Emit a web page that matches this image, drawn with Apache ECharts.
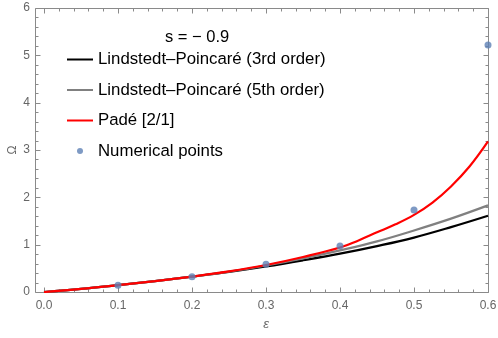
<!DOCTYPE html>
<html>
<head>
<meta charset="utf-8">
<script src="https://cdn.jsdelivr.net/npm/echarts@6/dist/echarts.min.js"></script>
<style>
  html, body { margin: 0; padding: 0; background: #fff; }
  #chart { width: 498px; height: 338px; }
</style>
</head>
<body>
<div id="chart"></div>
<script>
// curve sample points
var eps = [0, 0.05, 0.1, 0.15, 0.2, 0.25, 0.3, 0.35, 0.4, 0.45, 0.5, 0.55, 0.6];
var lp3 = [0, 0.065, 0.145, 0.23, 0.325, 0.425, 0.54, 0.67, 0.81, 0.97, 1.15, 1.37, 1.61];
var lp5 = [0, 0.065, 0.145, 0.23, 0.325, 0.43, 0.56, 0.71, 0.88, 1.07, 1.30, 1.55, 1.83];

var padeEps = [0, 0.05, 0.1, 0.15, 0.2, 0.25, 0.3, 0.35, 0.4, 0.425, 0.45, 0.475, 0.5, 0.525, 0.55, 0.575, 0.6];
var pade = [0, 0.065, 0.145, 0.23, 0.325, 0.435, 0.57, 0.74, 0.94, 1.09, 1.26, 1.43, 1.63, 1.89, 2.23, 2.65, 3.18];

var numEps = [0.1, 0.2, 0.3, 0.4, 0.5, 0.6];
var numVals = [0.14, 0.32, 0.585, 0.97, 1.73, 5.22];

var xTicks = [0, 0.1, 0.2, 0.3, 0.4, 0.5, 0.6];
var yTicks = [0, 1, 2, 3, 4, 5, 6];

var names = ['Lindstedt\u2013Poincaré (3rd order)', 'Lindstedt\u2013Poincaré (5th order)', 'Padé [2/1]', 'Numerical points'];

document.addEventListener('DOMContentLoaded', function () {
  var chart = echarts.init(document.getElementById('chart'));

  function pairs(xs, ys) {
    return xs.map(function (x, i) { return [x, ys[i]]; });
  }

  // minor ticks between the majors (5 steps per major)
  function minors(ticks) {
    var out = [];
    for (var i = 0; i < ticks.length - 1; i++) {
      var step = (ticks[i + 1] - ticks[i]) / 5;
      for (var k = 1; k < 5; k++) out.push(ticks[i] + k * step);
    }
    return out;
  }

  var frame = '#8a8a8a';
  var labelColor = '#666';
  var fontFamily = 'Liberation Sans, Arial, sans-serif';
  var lineIcon = 'path://M0,0 L13,0 L13,1 L0,1 Z';
  var xFrameMin = -0.012;   // frame starts a little left of 0

  var option = {
    animation: false,
    title: {
      text: 's = \u2212 0.9',
      left: 160, top: 24,
      textStyle: { color: '#000', fontSize: 16.5, fontWeight: 'normal', fontFamily: fontFamily }
    },
    legend: {
      orient: 'vertical',
      left: 67, top: 51, padding: 0,
      itemWidth: 26, itemHeight: 6, itemGap: 13.5,
      selectedMode: false,
      textStyle: { color: '#000', fontSize: 16.8, fontFamily: fontFamily },
      data: [
        { name: names[0], icon: lineIcon },
        { name: names[1], icon: lineIcon },
        { name: names[2], icon: lineIcon },
        { name: names[3], icon: 'circle' }
      ]
    },
    grid: { left: 44, right: 10, top: 8, bottom: 46, containLabel: false, outerBoundsMode: 'none' },
    xAxis: {
      type: 'value', min: 0, max: 0.6, interval: 0.1,
      axisLine: { show: false }, axisTick: { show: false }, splitLine: { show: false },
      axisLabel: { color: labelColor, fontSize: 12, fontFamily: fontFamily, margin: 8,
        formatter: function (v) { return v.toFixed(1); } },
      name: 'ε', nameLocation: 'middle', nameGap: 26, nameMoveOverlap: false,
      nameTextStyle: { color: labelColor, fontSize: 13, fontStyle: 'italic', fontFamily: fontFamily }
    },
    yAxis: {
      type: 'value', offset: 9, min: 0, max: 6, interval: 1,
      axisLine: { show: false }, axisTick: { show: false }, splitLine: { show: false },
      axisLabel: { color: labelColor, fontSize: 12, fontFamily: fontFamily, margin: 5 },
      name: 'Ω', nameLocation: 'middle', nameGap: 16, nameMoveOverlap: false,
      nameTextStyle: { color: labelColor, fontSize: 12, fontFamily: fontFamily }
    },
    series: [
      {
        name: names[0], type: 'line', data: pairs(eps, lp3),
        smooth: 0.4, symbol: 'none',
        lineStyle: { color: '#000', width: 2.2 }, itemStyle: { color: '#000' }, z: 2
      },
      {
        name: names[1], type: 'line', data: pairs(eps, lp5),
        smooth: 0.4, symbol: 'none',
        lineStyle: { color: '#808080', width: 2.2 }, itemStyle: { color: '#808080' }, z: 3
      },
      {
        name: names[2], type: 'line', data: pairs(padeEps, pade),
        smooth: 0.4, symbol: 'none',
        lineStyle: { color: '#ff0000', width: 2.2 }, itemStyle: { color: '#ff0000' }, z: 4
      },
      {
        name: names[3], type: 'scatter', data: pairs(numEps, numVals),
        symbol: 'circle', symbolSize: 7,
        itemStyle: { color: '#5e81b5' }, z: 5
      }
    ]
  };

  chart.setOption(option);

  // frame and inward ticks on all four sides, placed through the axis scales
  function px(v) { return chart.convertToPixel({ xAxisIndex: 0 }, v); }
  function py(v) { return chart.convertToPixel({ yAxisIndex: 0 }, v); }
  function crisp(p) { return Math.round(p) + 0.5; }

  var xl = crisp(px(xFrameMin)), xr = crisp(px(0.6));
  var yb = crisp(py(0)), yt = crisp(py(6));
  var els = [];

  function seg(x1, y1, x2, y2) {
    els.push({
      type: 'line', silent: true, z: 1,
      shape: { x1: x1, y1: y1, x2: x2, y2: y2 },
      style: { stroke: frame, lineWidth: 1 }
    });
  }

  seg(xl, yb, xr, yb);
  seg(xl, yt, xr, yt);
  seg(xl, yb, xl, yt);
  seg(xr, yb, xr, yt);

  function xTick(v, len) {
    var x = crisp(px(v));
    seg(x, yb, x, yb - len);
    seg(x, yt, x, yt + len);
  }
  function yTick(v, len) {
    var y = crisp(py(v));
    seg(xl, y, xl + len, y);
    seg(xr, y, xr - len, y);
  }
  xTicks.forEach(function (v) { xTick(v, 5); });
  minors(xTicks).forEach(function (v) { xTick(v, 3); });
  yTicks.forEach(function (v) { yTick(v, 5); });
  minors(yTicks).forEach(function (v) { yTick(v, 3); });

  chart.setOption({ graphic: { elements: els } });
});
</script>
</body>
</html>
